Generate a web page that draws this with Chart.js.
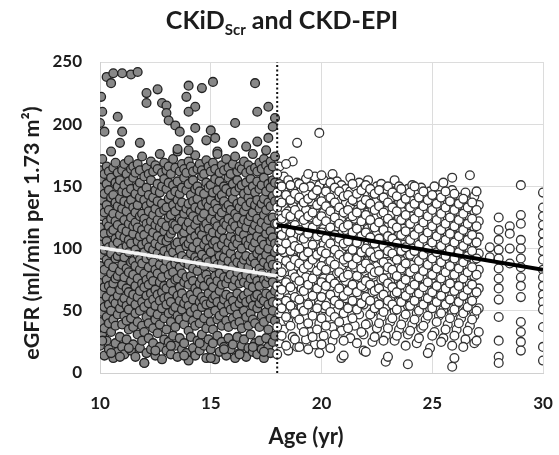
<!DOCTYPE html>
<html>
<head>
<meta charset="utf-8">
<script src="https://cdn.jsdelivr.net/npm/chart.js@4.4.1/dist/chart.umd.min.js"></script>
<style>
html,body{margin:0;padding:0;background:#fff;}
#wrap{width:559px;height:455px;position:relative;}
</style>
</head>
<body>
<div id="wrap"><canvas id="c" width="559" height="455"></canvas></div>
<script>
// ---- Data ----
const xTicks = [10, 15, 20, 25, 30];
const yTicks = [0, 50, 100, 150, 200, 250];

// CKiD_Scr (age < 18): columns of eGFR values by age
const leftAges = [10.0,10.1,10.2,10.3,10.4,10.5,10.6,10.7,10.8,10.9,11.0,11.1,11.2,11.3,11.4,11.5,11.6,11.7,11.8,11.9,
  12.0,12.1,12.2,12.3,12.4,12.5,12.6,12.7,12.8,12.9,13.0,13.1,13.2,13.3,13.4,13.5,13.6,13.7,13.8,13.9,
  14.0,14.1,14.2,14.3,14.4,14.5,14.6,14.7,14.8,14.9,15.0,15.1,15.2,15.3,15.4,15.5,15.6,15.7,15.8,15.9,
  16.0,16.1,16.2,16.3,16.4,16.5,16.6,16.7,16.8,16.9,17.0,17.1,17.2,17.3,17.4,17.5,17.6,17.7,17.8,17.9];
const leftValues = [
  [22,41,58,73,86,104,117,133,149,163],[30,49,64,79,95,110,126,139,156,172],[14,36,53,69,83,99,112,129,144,160],
  [26,45,61,75,91,106,121,135,152,166],[19,40,55,70,88,101,118,131,147,162],[33,50,66,80,96,113,124,141,157,178],
  [12,43,59,72,85,103,115,128,143,165],[24,38,56,76,92,108,122,137,153,169],[17,47,62,78,94,105,119,134,150,161],
  [29,52,67,82,98,111,127,140,155,185],[21,39,57,71,87,100,116,132,146,163],[15,46,60,77,93,109,123,138,151,168],
  [27,42,54,68,84,102,114,130,145,160],[35,51,65,81,97,107,120,136,154,171],[18,44,58,74,89,104,125,139,148,164],
  [23,37,63,79,90,112,118,133,157,166],[13,48,55,70,86,99,121,129,144,161],[31,41,61,76,95,106,117,135,150,168],
  [20,50,66,83,91,110,126,141,153,163],[26,38,57,72,88,103,115,128,146,174],
  [8,33,53,69,80,97,111,124,139,158],[16,45,62,75,92,105,120,134,149,165],[28,40,56,71,85,101,116,130,143,160],
  [19,49,64,78,94,108,122,137,155,170],[24,36,59,74,89,99,113,127,141,162],[14,43,54,67,83,104,119,132,147,167],
  [32,47,63,80,96,110,123,138,152,164],[21,39,58,73,87,102,117,129,145,176],[11,52,65,77,93,107,121,136,150,161],
  [27,44,60,70,84,98,114,131,156,169],[18,35,55,68,90,106,118,133,148,163],[25,48,61,79,95,109,125,140,153,166],
  [15,41,57,72,86,100,112,127,143,160],[30,50,66,81,97,115,120,135,151,172],[22,37,53,75,88,103,119,130,146,165],
  [13,46,62,76,92,105,116,139,154,178],[28,43,58,69,85,99,124,134,144,162],[19,51,64,80,94,111,122,137,149,168],
  [24,39,56,73,89,106,113,128,157,164],[16,45,60,77,91,102,118,132,147,161],
  [10,34,54,71,87,104,121,136,152,170],[29,49,63,78,96,108,115,129,143,166],[20,42,59,74,84,101,126,138,155,162],
  [14,38,52,68,93,110,119,133,148,175],[26,47,65,82,90,105,123,140,150,164],[18,40,57,72,88,99,114,131,146,168],
  [31,53,61,76,95,111,125,135,158,163],[22,44,58,70,86,103,117,128,144,160],[12,36,55,79,92,107,120,137,153,171],
  [27,48,64,75,89,100,116,134,149,166],[19,41,56,73,97,109,124,139,151,162],[24,35,60,69,85,104,113,130,145,169],
  [11,50,62,78,91,106,122,136,156,164],[30,43,57,74,87,101,118,132,147,178],[17,46,66,80,94,112,126,141,154,161],
  [25,38,54,71,88,103,115,129,143,167],[21,49,59,77,93,108,121,138,150,163],[14,42,63,72,84,99,119,133,148,172],
  [28,37,55,76,90,105,124,135,157,165],[19,51,61,79,96,110,116,131,145,160],
  [23,44,58,70,86,102,121,140,152,168],[12,39,53,75,92,107,118,128,146,174],[29,47,64,81,89,104,125,136,155,162],
  [16,41,56,72,95,109,114,133,149,166],[22,36,60,77,87,100,120,138,151,164],[27,50,62,73,91,111,123,130,144,170],
  [13,45,57,79,94,106,117,134,153,161],[20,38,65,71,85,103,122,141,147,167],[31,48,59,76,90,108,126,137,156,163],
  [17,43,54,69,93,101,115,129,150,176],[24,40,61,78,88,105,119,135,145,165],[15,52,63,74,96,110,124,139,154,162],
  [26,37,56,70,84,99,116,132,148,169],[19,46,60,80,92,107,121,136,151,164],[12,41,58,75,89,103,127,140,157,172],
  [28,49,64,72,95,112,118,131,146,167],[21,35,55,77,86,100,123,137,152,163],[16,44,62,79,91,106,114,134,149,170],
  [25,50,57,73,87,109,125,142,155,166],[30,42,66,81,97,104,120,138,153,174]
];
// sparse CKiD_Scr points above/below the main cloud
const leftExtraAge = [10.3,10.6,11.0,11.4,11.7,10.5,10.05,10.1,10.8,10.0,10.2,11.0,12.1,12.1,12.6,12.8,13.0,13.0,13.1,13.4,13.6,
  14.0,13.9,14.3,14.0,14.6,15.1,14.3,15.0,15.2,14.8,16.1,16.0,17.0,17.1,17.6,17.1,17.6,17.5,14.0,14.0,17.9,17.8,
  10.1,10.5,10.9,11.3,12.0,12.5,13.2,13.8,14.5,15.0,15.6,16.3,16.9,17.4,11.8,13.5,15.3,16.6];
const leftExtraVal = [238,241,241,240,242,233,222,210,206,201,194,194,225,217,228,217,215,209,203,199,194,
  231,222,214,210,229,234,197,195,189,187,201,185,233,210,214,186,189,179,187,179,205,198,
  26,16,13,20,8,18,22,14,24,12,19,15,21,17,185,180,176,182];

// CKD-EPI (age >= 18): columns of eGFR values by age
const rightAges = [18.1,18.3,18.5,18.7,18.9,19.1,19.3,19.5,19.7,19.9,20.1,20.3,20.5,20.7,20.9,21.1,21.3,21.5,21.7,21.9,
  22.1,22.3,22.5,22.7,22.9,23.1,23.3,23.5,23.7,23.9,24.1,24.3,24.5,24.7,24.9,25.1,25.3,25.5,25.7,25.9,
  26.1,26.3,26.5,26.7,26.9,27.1,27.6,28.0,28.5,29.0,30.0];
const rightValues = [
  [24,48,63,78,92,105,114,127,139,152,166],[35,55,70,84,97,110,121,133,146,158],[18,42,60,75,88,101,117,130,142,155],
  [29,51,66,80,94,107,124,136,149,170],[21,46,58,72,86,99,112,128,140,153,185],[38,53,68,81,96,109,120,134,147],
  [27,44,62,77,90,104,118,131,144,156],[33,57,71,85,98,113,125,138,150],[23,49,64,79,93,106,119,132,145,158],
  [16,40,55,69,83,97,111,124,137,151,193],[30,52,67,76,91,103,116,129,142,155],[45,59,73,88,101,114,127,140,149],
  [26,37,61,78,94,108,121,134,146,160],[50,65,80,92,105,118,131,143,154],[12,34,56,70,86,99,112,125,139,151],
  [42,60,74,89,102,115,128,137,148],[28,53,67,82,96,109,122,135,146,157],[38,58,72,85,100,111,124,138,150],
  [47,63,77,93,104,118,130,141,153],[18,31,55,69,84,97,110,123,136,149],
  [40,61,76,90,103,116,129,143,155],[25,49,65,79,94,106,119,132,145],[36,57,71,86,98,112,126,139,150],
  [45,62,75,91,105,117,128,142,152],[9,30,53,68,83,96,110,124,137,148],[41,59,73,88,101,114,127,140],
  [26,50,64,79,93,108,121,134,146,155],[35,57,70,85,99,111,125,138,150],[44,61,76,90,103,116,130,143],
  [7,31,54,68,82,95,109,122,135,148],[39,58,73,87,100,113,126,139,151],[24,48,63,78,92,106,118,131,144],
  [36,55,69,84,97,110,123,136,149],[43,60,75,89,102,115,128,141],[20,52,66,80,94,107,121,133,146],
  [33,57,72,86,99,112,125,138,150],[46,62,77,91,104,117,130,143],[28,51,67,82,95,108,122,135,153],
  [39,58,71,85,98,111,124,137],[5,22,48,63,79,93,106,119,132,147,157],
  [35,55,70,84,97,110,123,136],[44,61,75,89,101,115,128,141],[27,50,66,80,94,107,120,133,145],
  [38,57,72,86,99,112,125,138,159],[24,46,63,78,91,104,117,130,142],[33,52,68,83,96,109,122,135],
  [93,101],
  [125,115,107,99,92,84,76,68,59,45,26,13,8],
  [118,112,100,88],
  [151,127,120,107,100,92,85,77,70,61,41,33,25,18],
  [145,133,126,119,112,105,98,91,83,77,70,63,57,51,37,21,10]
];
// second, staggered set of CKD-EPI columns
const rightAges2 = [18.0,18.2,18.4,18.6,18.8,19.0,19.2,19.4,19.6,19.8,20.0,20.2,20.4,20.6,20.8,21.0,21.2,21.4,21.6,21.8,
  22.0,22.2,22.4,22.6,22.8,23.0,23.2,23.4,23.6,23.8,24.0,24.2,24.4,24.6,24.8,25.0,25.2,25.4,25.6,25.8,
  26.0,26.2,26.4,26.6,26.8,27.0];
const rightValues2 = [
  [15,37,56,70,86,100,120,133,145,160],[30,52,67,81,99,111,124,137,150],[22,45,58,73,90,104,116,128,143,168],
  [38,54,69,86,98,113,126,139,151],[27,48,61,77,91,102,119,131,144],[21,43,59,74,88,100,115,127,141,152],
  [33,50,66,84,94,108,123,137,149],[19,40,55,71,87,97,112,126,140,160],[29,46,62,76,91,103,117,129,143],
  [35,52,68,82,95,110,122,135,147],[23,44,61,73,86,98,113,126,138,159],[38,54,70,83,96,108,122,134,146],
  [20,49,63,76,90,104,117,130,141,153],[31,45,58,72,87,99,111,125,137,149],[41,55,68,81,95,108,120,133,146],
  [14,26,48,62,77,91,104,117,129,142],[36,52,66,79,93,106,119,131,143],[44,58,71,87,99,113,126,139,152],
  [24,51,65,78,92,105,116,129,144],[33,56,70,84,97,110,122,135,147],
  [17,39,61,74,88,100,113,127,139,151],[47,58,71,84,97,109,123,136,148],[29,52,66,81,93,104,117,131,144],
  [40,55,68,82,95,108,121,134,147],[26,49,63,76,89,102,115,129,141],[13,36,58,72,85,98,110,124,137,150],
  [44,55,69,83,96,108,120,133,145],[30,51,65,78,91,104,117,130,142],[39,57,71,84,98,111,123,136,148],
  [22,47,62,75,88,101,114,127,140],[34,54,67,81,95,107,120,133,145],[43,58,71,84,98,111,124,136,150],
  [28,50,64,77,90,103,116,129,141],[38,55,69,82,95,108,121,134,146],[16,46,60,73,87,100,113,126,139],
  [30,52,65,79,92,105,118,131,143],[41,57,70,84,97,110,123,136],[25,48,62,76,89,102,115,128,141],
  [35,55,68,81,94,107,120,133,146],[44,59,72,86,99,112,125,138],
  [12,30,51,66,79,92,105,118,131,144],[40,57,70,84,97,110,123,136],[21,48,62,76,89,102,115,128,140],
  [34,53,67,81,94,107,120,133],[43,58,71,85,98,111,124,137],[26,50,65,79,92,105,118,131,146]
];

// regression lines and 18-year cut-off
const fitLeftAge = [10, 18],  fitLeftVal = [101, 78];
const fitRightAge = [18, 30], fitRightVal = [119, 83];
const cutAge = [18, 18], cutVal = [0, 250];

// ---- build point lists ----
function columns(ages, vals) {
  const out = [];
  ages.forEach((a, i) => vals[i].forEach(v => out.push({x: a, y: v})));
  return out;
}
function pairs(xs, ys) { return xs.map((x, i) => ({x: x, y: ys[i]})); }

const leftPts = columns(leftAges, leftValues).concat(pairs(leftExtraAge, leftExtraVal));
const rightPts = columns(rightAges, rightValues).concat(columns(rightAges2, rightValues2));

const FONT = 'Lato, "Open Sans", sans-serif';
const INK = '#1c1c1c';

const titlesPlugin = {
  id: 'titles',
  afterDraw(chart) {
    const ctx = chart.ctx;
    ctx.save();
    ctx.fillStyle = INK;
    ctx.textBaseline = 'alphabetic';
    const parts = [['CKiD', 25, 0], ['Scr', 15, 6], [' and CKD-EPI', 25, 0]];
    let total = 0;
    parts.forEach(p => { ctx.font = 'bold ' + p[1] + 'px ' + FONT; p.push(ctx.measureText(p[0]).width); total += p[3]; });
    let x = 282 - total / 2;
    parts.forEach(p => { ctx.font = 'bold ' + p[1] + 'px ' + FONT; ctx.textAlign = 'left'; ctx.fillText(p[0], x, 29 + p[2]); x += p[3]; });
    ctx.font = 'bold 22px ' + FONT;
    ctx.textAlign = 'center';
    ctx.textBaseline = 'middle';
    ctx.fillText('Age (yr)', 306, 437);
    ctx.translate(32, 233);
    ctx.rotate(-Math.PI / 2);
    ctx.font = 'bold 21.5px ' + FONT;
    ctx.fillText('eGFR (ml/min per 1.73 m\u00B2)', 0, 0);
    ctx.restore();
  }
};

new Chart(document.getElementById('c'), {
  type: 'scatter',
  data: {
    datasets: [
      { type: 'line', data: pairs(cutAge, cutVal), borderColor: '#111', borderWidth: 2, borderDash: [2, 2.5], pointRadius: 0, order: 0 },
      { type: 'line', data: pairs(fitRightAge, fitRightVal), borderColor: '#000', borderWidth: 4, pointRadius: 0, order: 1 },
      { type: 'line', data: pairs(fitLeftAge, fitLeftVal), borderColor: '#f4f4f4', borderWidth: 3.5, pointRadius: 0, order: 2 },
      { data: rightPts, backgroundColor: '#ffffff', borderColor: '#333', borderWidth: 1.3, pointRadius: 4.4, order: 3 },
      { data: leftPts, backgroundColor: '#888888', borderColor: '#222', borderWidth: 1.3, pointRadius: 4.4, order: 4 }
    ]
  },
  options: {
    responsive: false,
    animation: false,
    devicePixelRatio: 1,
    layout: { padding: { top: 62, right: 16, left: 0, bottom: 0 } },
    plugins: { legend: { display: false }, tooltip: { enabled: false }, title: { display: false } },
    scales: {
      x: {
        type: 'linear', min: 10, max: 30,
        afterBuildTicks: s => { s.ticks = xTicks.map(v => ({value: v})); },
        afterFit: s => { s.height = 82; s.paddingLeft = 0; s.paddingRight = 0; },
        grid: { color: '#dcdcdc', lineWidth: 1, drawTicks: false },
        border: { color: '#d0d0d0' },
        ticks: { color: INK, padding: 20, font: { family: FONT, size: 17, weight: 'bold' } }
      },
      y: {
        type: 'linear', min: 0, max: 250,
        afterBuildTicks: s => { s.ticks = yTicks.map(v => ({value: v})); },
        afterFit: s => { s.width = 100; s.paddingTop = 0; s.paddingBottom = 0; },
        grid: { color: '#dcdcdc', lineWidth: 1, drawTicks: false },
        border: { color: '#d0d0d0' },
        ticks: { color: INK, padding: 18, font: { family: FONT, size: 17, weight: 'bold' } }
      }
    }
  },
  plugins: [titlesPlugin]
});
</script>
</body>
</html>
